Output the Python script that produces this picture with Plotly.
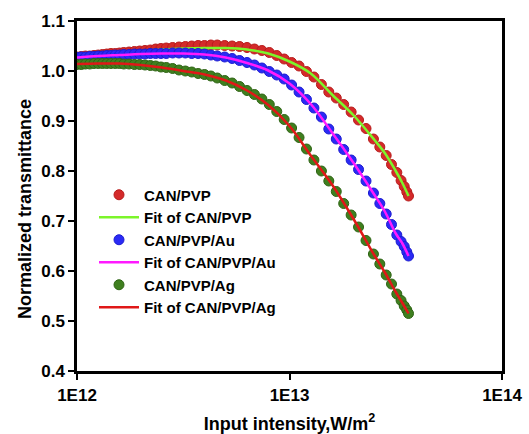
import plotly.graph_objects as go

# Input intensity (W/m^2) for the measured points
intensity = [1.000e12, 1.047e12, 1.096e12, 1.148e12, 1.202e12, 1.259e12, 1.318e12, 1.380e12,
             1.445e12, 1.514e12, 1.585e12, 1.660e12, 1.758e12, 1.862e12, 1.972e12, 2.089e12,
             2.213e12, 2.344e12, 2.483e12, 2.630e12, 2.818e12, 3.020e12, 3.236e12, 3.467e12,
             3.715e12, 3.981e12, 4.266e12, 4.571e12, 4.955e12, 5.370e12, 5.821e12, 6.310e12,
             6.839e12, 7.413e12, 8.035e12, 8.710e12, 9.441e12, 1.023e13, 1.109e13, 1.202e13,
             1.303e13, 1.413e13, 1.531e13, 1.660e13, 1.799e13, 1.950e13, 2.113e13, 2.291e13,
             2.483e13, 2.661e13, 2.851e13, 3.020e13, 3.199e13, 3.350e13, 3.467e13, 3.565e13,
             3.631e13]

can_pvp = [1.028, 1.029, 1.030, 1.030, 1.031, 1.032, 1.033, 1.034, 1.035, 1.035, 1.036, 1.037,
           1.038, 1.039, 1.040, 1.041, 1.042, 1.044, 1.045, 1.046, 1.047, 1.048, 1.049, 1.050,
           1.051, 1.051, 1.052, 1.052, 1.051, 1.050, 1.049, 1.047, 1.044, 1.041, 1.037, 1.031,
           1.024, 1.017, 1.010, 0.999, 0.988, 0.973, 0.958, 0.946, 0.933, 0.918, 0.902, 0.885,
           0.864, 0.848, 0.831, 0.813, 0.797, 0.781, 0.769, 0.758, 0.750]

can_pvp_au = [1.027, 1.028, 1.028, 1.029, 1.029, 1.030, 1.030, 1.031, 1.031, 1.032, 1.032, 1.033,
              1.033, 1.034, 1.034, 1.034, 1.035, 1.035, 1.035, 1.035, 1.036, 1.036, 1.036, 1.035,
              1.035, 1.034, 1.032, 1.030, 1.028, 1.025, 1.021, 1.017, 1.012, 1.006, 0.999, 0.992,
              0.984, 0.972, 0.958, 0.943, 0.926, 0.908, 0.884, 0.864, 0.843, 0.822, 0.803, 0.780,
              0.756, 0.735, 0.714, 0.693, 0.672, 0.659, 0.649, 0.638, 0.630]

can_pvp_ag = [1.013, 1.013, 1.014, 1.014, 1.015, 1.015, 1.015, 1.015, 1.015, 1.015, 1.015, 1.014,
              1.014, 1.013, 1.013, 1.012, 1.011, 1.010, 1.008, 1.007, 1.005, 1.002, 1.000, 0.998,
              0.995, 0.993, 0.990, 0.986, 0.981, 0.976, 0.969, 0.961, 0.953, 0.944, 0.933, 0.919,
              0.903, 0.886, 0.867, 0.844, 0.822, 0.800, 0.780, 0.759, 0.735, 0.712, 0.688, 0.661,
              0.634, 0.614, 0.592, 0.574, 0.554, 0.541, 0.530, 0.522, 0.515]

# Fit curves
fit_intensity = [1.000e12, 1.259e12, 1.585e12, 1.995e12, 2.512e12, 3.162e12, 3.981e12, 5.012e12,
                 6.310e12, 7.943e12, 1.000e13, 1.259e13, 1.585e13, 1.995e13, 2.512e13, 2.818e13,
                 3.162e13, 3.388e13, 3.631e13]
fit_can_pvp = [1.028, 1.032, 1.036, 1.040, 1.043, 1.045, 1.046, 1.046, 1.043, 1.035, 1.019, 0.995,
               0.953, 0.912, 0.862, 0.835, 0.800, 0.777, 0.750]
fit_can_pvp_au = [1.027, 1.030, 1.032, 1.034, 1.035, 1.035, 1.033, 1.027, 1.016, 1.001, 0.975, 0.934,
                  0.877, 0.817, 0.752, 0.718, 0.675, 0.656, 0.630]
fit_can_pvp_ag = [1.014, 1.015, 1.015, 1.012, 1.007, 1.000, 0.993, 0.981, 0.961, 0.932, 0.890, 0.831,
                  0.773, 0.705, 0.631, 0.596, 0.558, 0.537, 0.515]

x_ticks = [1e12, 1e13, 1e14]
x_ticktext = ["1E12", "1E13", "1E14"]

fig = go.Figure()

def dots(y, name, color, edge):
    fig.add_trace(go.Scatter(x=intensity, y=y, mode="markers", name=name,
                             marker=dict(size=10, color=color, line=dict(width=1, color=edge))))

def fit(y, name, color):
    fig.add_trace(go.Scatter(x=fit_intensity, y=y, mode="lines", name=name,
                             line=dict(color=color, width=2.5, shape="spline")))

dots(can_pvp, "CAN/PVP", "#d42a2a", "#b81c1c")
fit(fit_can_pvp, "Fit of CAN/PVP", "#7cf52a")
dots(can_pvp_au, "CAN/PVP/Au", "#2a2af5", "#1c1cd0")
fit(fit_can_pvp_au, "Fit of CAN/PVP/Au", "#ff1aff")
dots(can_pvp_ag, "CAN/PVP/Ag", "#3f7f1f", "#2e6414")
fit(fit_can_pvp_ag, "Fit of CAN/PVP/Ag", "#e01818")

font_family = "Liberation Sans, Arial, sans-serif"

fig.update_layout(
    width=529, height=434,
    margin=dict(l=77, r=27, t=21, b=63),
    paper_bgcolor="white", plot_bgcolor="white",
    font=dict(family=font_family, color="black", size=16),
    showlegend=True,
    legend=dict(x=0.04, y=0.55, xanchor="left", yanchor="top",
                bgcolor="rgba(0,0,0,0)", font=dict(size=15, family=font_family, weight="bold"),
                tracegroupgap=0, itemwidth=40),
    xaxis=dict(type="log", range=[12, 14], tickvals=x_ticks, ticktext=x_ticktext,
               showline=True, linecolor="black", linewidth=2.5, mirror=True,
               ticks="outside", ticklen=6, tickwidth=2, tickcolor="black",
               showgrid=False, zeroline=False, automargin=False,
               tickfont=dict(size=17, family=font_family, weight="bold"),
               ticklabelstandoff=1,
               title=dict(text="Input intensity,W/m<sup>2</sup>", standoff=22,
                          font=dict(size=18, family=font_family, weight="bold"))),
    yaxis=dict(range=[0.4, 1.1], dtick=0.1, tick0=0.4, tickformat=".1f",
               showline=True, linecolor="black", linewidth=2.5, mirror=True,
               ticks="outside", ticklen=6, tickwidth=2, tickcolor="black",
               showgrid=False, zeroline=False, automargin=False,
               tickfont=dict(size=17, family=font_family, weight="bold")),
    annotations=[dict(text="Normalized transmittance", textangle=-90,
                      xref="paper", yref="paper", x=-0.122, y=0.463,
                      xanchor="center", yanchor="middle", showarrow=False,
                      font=dict(size=18, family=font_family, weight="bold"))],
)

fig.write_html("out.html")
